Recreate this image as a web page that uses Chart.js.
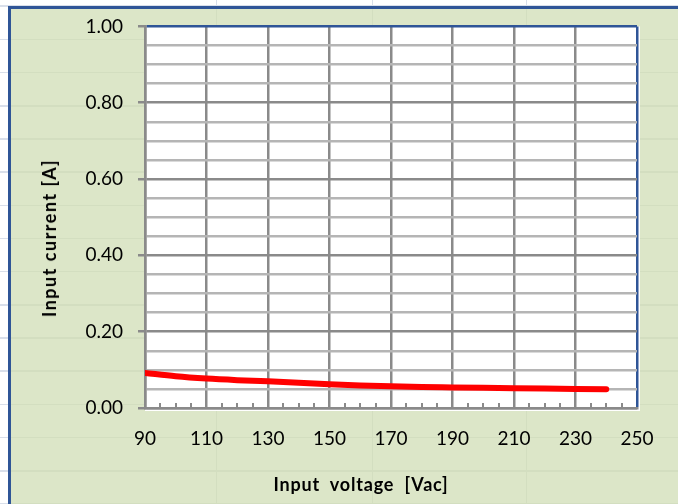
<!DOCTYPE html>
<html>
<head>
<meta charset="utf-8">
<script src="https://cdn.jsdelivr.net/npm/chart.js@4/dist/chart.umd.min.js"></script>
<style>
  html, body { margin: 0; padding: 0; }
  body {
    width: 678px; height: 504px; overflow: hidden; position: relative;
    background-color: #fff;
    background-image:
      repeating-linear-gradient(to bottom, transparent 0 5.5px, #d9dfea 5.5px 7px, transparent 7px 33.18px),
      linear-gradient(to right, transparent 216px, #d9dfea 216px 217.5px, transparent 217.5px 371.5px, #d9dfea 371.5px 373px, transparent 373px 525.5px, #d9dfea 525.5px 527px, transparent 527px);
    background-attachment: fixed;
    font-family: Lato, "Open Sans", sans-serif;
  }
  #frame {
    position: absolute; left: 8px; top: 6px; width: 720px; height: 540px;
    border-left: 3px solid #2f5597; border-top: 3px solid #2f5597;
    background-color: #dce6c8;
    background-image:
      repeating-linear-gradient(to bottom, transparent 0 5.5px, #d3dec0 5.5px 7px, transparent 7px 33.18px),
      linear-gradient(to right, transparent 216px, #d3dec0 216px 217.5px, transparent 217.5px 371.5px, #d3dec0 371.5px 373px, transparent 373px 525.5px, #d3dec0 525.5px 527px, transparent 527px);
    background-attachment: fixed;
  }
  #wrap { position: absolute; left: 0; top: 0; width: 678px; height: 504px; }
  .title { position: absolute; font-weight: bold; font-size: 18px; color: #000; white-space: pre; }
  #xTitle { left: 361px; top: 484px; letter-spacing: 0.8px; transform: translate(-50%, -50%); }
  #yTitle { left: 49px; top: 238px; letter-spacing: 1.5px; transform: translate(-50%, -50%) rotate(-90deg); }
</style>
</head>
<body>
<div id="frame"></div>
<div id="wrap"><canvas id="chart" width="678" height="504"></canvas></div>
<div class="title" id="xTitle">Input  voltage  [Vac]</div>
<div class="title" id="yTitle">Input current [A]</div>
<script>
const voltage = [90, 100, 110, 120, 130, 140, 150, 160, 170, 180, 190, 200, 210, 220, 230, 240];
const current = [0.092, 0.083, 0.077, 0.073, 0.070, 0.066, 0.062, 0.059, 0.057, 0.055, 0.054, 0.053, 0.052, 0.051, 0.050, 0.049];
const xTicks = [90, 110, 130, 150, 170, 190, 210, 230, 250];
const yTicks = [0, 0.2, 0.4, 0.6, 0.8, 1.0];

const BLUE = "#2f5597";
const MAJOR = "#8a8a8a";
const MINOR = "#b5b5b5";

const isMajorY = v => yTicks.some(t => Math.abs(t - v) < 1e-6);

// white plot area + minor x ticks pointing inwards
const plotArea = {
  id: "plotArea",
  beforeDraw(chart) {
    const { ctx, chartArea: a } = chart;
    ctx.save();
    ctx.fillStyle = "#fff";
    ctx.fillRect(a.left, a.top, a.right - a.left + 3, a.bottom - a.top + 3);
    ctx.restore();
  },
  afterDraw(chart) {
    const { ctx, chartArea: a } = chart;
    const xs = chart.scales.x;
    ctx.save();
    ctx.strokeStyle = MAJOR;
    ctx.lineWidth = 2;
    for (let v = 95; v < 250; v += 5) {
      if ((v - 90) % 20 === 0) continue;
      const px = Math.round(xs.getPixelForValue(v));
      ctx.beginPath();
      ctx.moveTo(px, a.bottom - 5);
      ctx.lineTo(px, a.bottom);
      ctx.stroke();
    }
    ctx.restore();
  }
};

new Chart(document.getElementById("chart"), {
  type: "line",
  data: {
    datasets: [{
      data: voltage.map((v, i) => ({ x: v, y: current[i] })),
      borderColor: "#ff0000",
      borderWidth: 6,
      borderCapStyle: "round",
      pointRadius: 0,
      tension: 0.4,
      cubicInterpolationMode: "monotone"
    }]
  },
  options: {
    responsive: false,
    animation: false,
    events: [],
    layout: { padding: { left: 0, top: 22, right: 41, bottom: 0 } },
    plugins: { legend: { display: false }, tooltip: { enabled: false } },
    scales: {
      x: {
        type: "linear",
        min: 90, max: 250,
        afterBuildTicks: s => { s.ticks = xTicks.map(v => ({ value: v })); },
        afterFit: s => { s.height = 96; },
        grid: {
          drawTicks: false,
          lineWidth: 2.5,
          color: c => c.tick && c.tick.value === 250 ? BLUE : MAJOR
        },
        border: { color: MAJOR, width: 2.5 },
        ticks: { color: "#000", padding: 19, font: { family: "Lato", size: 19 } }
      },
      y: {
        min: 0, max: 1,
        ticks: {
          stepSize: 0.05,
          autoSkip: false,
          color: "#000",
          padding: 15,
          font: { family: "Lato", size: 19 },
          callback: v => isMajorY(v) ? v.toFixed(2) : ""
        },
        afterFit: s => { s.width = 145; },
        grid: {
          tickLength: 7,
          lineWidth: 2.5,
          color: c => {
            if (!c.tick) return MINOR;
            if (Math.abs(c.tick.value - 1) < 1e-6) return BLUE;
            return isMajorY(c.tick.value) ? MAJOR : MINOR;
          },
          tickColor: c => c.tick && isMajorY(c.tick.value) ? MAJOR : "rgba(0,0,0,0)"
        },
        border: { color: MAJOR, width: 2.5 }
      }
    }
  },
  plugins: [plotArea]
});
</script>
</body>
</html>
